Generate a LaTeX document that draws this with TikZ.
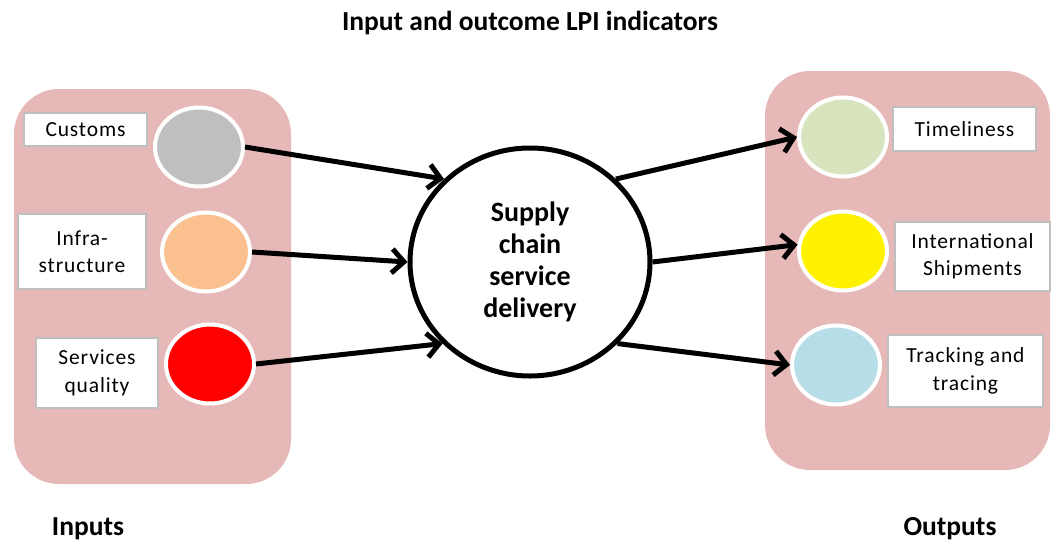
\documentclass[tikz,border=0pt]{standalone}
\usepackage{fontspec}
\setmainfont{Carlito}
\usetikzlibrary{arrows.meta,shapes.geometric}

\definecolor{panelpink}{RGB}{230,184,183}
\definecolor{boxgray}{RGB}{191,191,191}
\definecolor{custgray}{RGB}{191,191,191}
\definecolor{infpeach}{RGB}{250,192,144}
\definecolor{timegreen}{RGB}{215,228,189}
\definecolor{trackblue}{RGB}{183,222,232}

\tikzset{every picture/.style={line width=0.75pt}}
\tikzset{
  panel/.style={fill=panelpink, draw=none, rounded corners=45},
  blob/.style={ellipse, draw=white, line width=4, minimum width=88, minimum height=79, inner sep=0},
  lbl/.style={draw=boxgray, line width=1.5, fill=white, align=center, inner sep=0,
    font=\fontsize{21.5}{27.5}\selectfont\addfontfeature{LetterSpace=4}},
  flow/.style={line width=5, -{Straight Barb[length=12,width=24]}},
  heading/.style={anchor=base, font=\fontsize{27.5}{32}\selectfont\bfseries}
}

\begin{document}
\begin{tikzpicture}[x=1pt,y=1pt,yscale=-1]
\useasboundingbox (0,0) rectangle (1051,541);

%Rounded Rect: inputs and outputs panels
\draw [panel] (14,89) rectangle (291,484);
\draw [panel] (765,71) rectangle (1050,470);

%Shape: Ellipse (inputs)
\node [blob, fill=custgray] (cust) at (199,147) {};
\node [blob, fill=infpeach] (ifr) at (206,252) {};
\node [blob, fill=red] (svc) at (210,364) {};
%Shape: Ellipse (outputs)
\node [blob, fill=timegreen] (tml) at (843,137) {};
\node [blob, fill=yellow] (ish) at (843,251) {};
\node [blob, fill=trackblue] (trk) at (836,365) {};

%Shape: Circle
\node [ellipse, draw, line width=5, fill=white, minimum width=240, minimum height=228,
  align=center, font=\fontsize{28}{32}\selectfont\bfseries] (core) at (530,262)
  {Supply\\chain\\service\\delivery};

% Text Node
\node [lbl, minimum width=123, minimum height=33] (custlbl) at (85.5,129.5) {Customs};
% Text Node
\node [lbl, minimum width=128, minimum height=75] (ifrlbl) at (82,251.5) {Infra-\\structure};
% Text Node
\node [lbl, minimum width=122, minimum height=70] (svclbl) at (97,373) {Services\\quality};
% Text Node
\node [lbl, minimum width=143, minimum height=44] (tmllbl) at (964.5,129) {Timeliness};
% Text Node
\node [lbl, minimum width=155, minimum height=69] (ishlbl) at (972.5,256.5) {International\\Shipments};
% Text Node
\node [lbl, minimum width=155, minimum height=72] (trklbl) at (965.5,371) {Tracking and\\tracing};

%Straight Lines
\draw [flow] (cust.east) -- (core.136);
\draw [flow] (ifr.east) -- (core.west);
\draw [flow] (svc.east) -- (core.223);
\draw [flow] (core.44) -- (tml.west);
\draw [flow] (core.east) -- (ish.172);
\draw [flow] (core.-43) -- (trk.west);

% Text Node
\node [heading] (title) at (530,30) {Input and outcome LPI indicators};
% Text Node
\node [heading] (inlbl) at (88,535) {Inputs};
% Text Node
\node [heading] (outlbl) at (950,535) {Outputs};

\end{tikzpicture}
\end{document}
